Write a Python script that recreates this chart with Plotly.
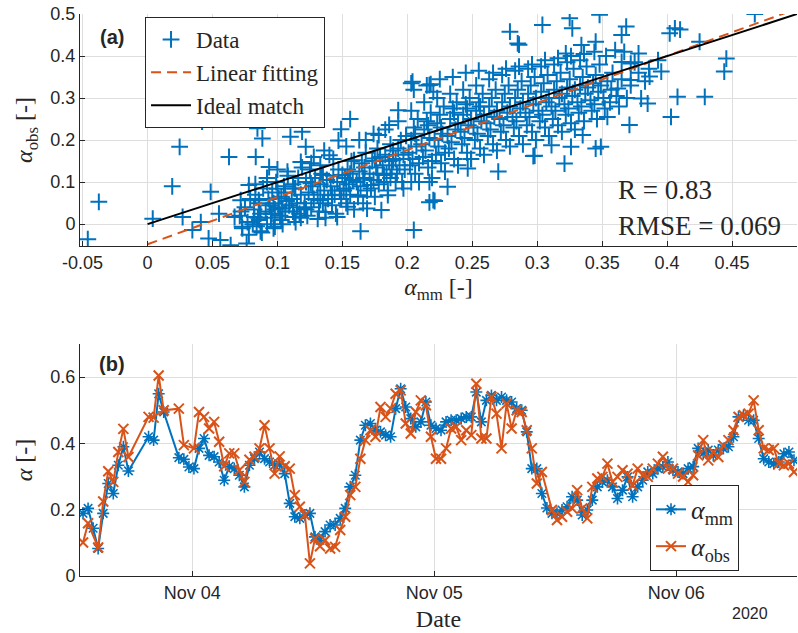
import plotly.graph_objects as go
import pandas as pd

# ---------------- panel (a) data: scatter of alpha_mm vs alpha_obs ----------------
mm_x = [
    -0.046, -0.0375, 0.004, 0.019, 0.0247, 0.027, 0.0345, 0.041, 0.042, 0.047, 0.0486, 0.055, 0.056,
    0.0627, 0.064, 0.067, 0.0717, 0.0728, 0.0763, 0.078, 0.0822, 0.0833, 0.0846, 0.0856, 0.087, 0.0884,
    0.092, 0.0936, 0.0956, 0.098, 0.1, 0.101, 0.104, 0.1077, 0.110, 0.113, 0.1138, 0.118, 0.119, 0.1207,
    0.1218, 0.1257, 0.128, 0.131, 0.133, 0.135, 0.137, 0.14, 0.142, 0.146, 0.147, 0.149, 0.15, 0.153,
    0.154, 0.156, 0.159, 0.162, 0.164, 0.166, 0.168, 0.169, 0.172, 0.175, 0.178, 0.18, 0.182, 0.185,
    0.186, 0.189, 0.191, 0.193,
    0.4675, 0.348, 0.325, 0.304, 0.279, 0.327, 0.3685, 0.365, 0.406, 0.402, 0.41, 0.285, 0.345, 0.334,
    0.36, 0.322, 0.378, 0.425, 0.4456, 0.444, 0.393, 0.365, 0.372, 0.3955, 0.3865, 0.372, 0.362, 0.408,
    0.429, 0.38, 0.385, 0.403, 0.371, 0.354, 0.349, 0.345, 0.335, 0.326, 0.321, 0.311, 0.297, 0.27,
    0.2465, 0.231, 0.22, 0.217, 0.217, 0.205, 0.204, 0.217, 0.203, 0.286, 0.203, 0.218, 0.221, 0.298,
    0.071, 0.073, 0.075, 0.077, 0.079, 0.072, 0.078,
    0.081, 0.082, 0.083, 0.084, 0.085, 0.086, 0.087, 0.088, 0.089, 0.083, 0.086,
    0.091, 0.092, 0.093, 0.094, 0.095, 0.096, 0.097, 0.098, 0.099, 0.092, 0.095, 0.097,
    0.101, 0.102, 0.103, 0.104, 0.105, 0.106, 0.107, 0.108, 0.109, 0.103, 0.106, 0.100,
    0.111, 0.112, 0.113, 0.114, 0.115, 0.116, 0.117, 0.118, 0.119, 0.112, 0.115, 0.118,
    0.121, 0.122, 0.123, 0.124, 0.125, 0.126, 0.127, 0.128, 0.129, 0.122, 0.126,
    0.131, 0.132, 0.133, 0.134, 0.135, 0.136, 0.137, 0.138, 0.139, 0.133, 0.136,
    0.141, 0.142, 0.143, 0.144, 0.145, 0.146, 0.147, 0.148, 0.149, 0.143,
    0.151, 0.152, 0.153, 0.154, 0.155, 0.156, 0.157, 0.158, 0.159, 0.153, 0.156,
    0.161, 0.162, 0.163, 0.164, 0.165, 0.166, 0.167, 0.168, 0.169, 0.163, 0.167,
    0.171, 0.172, 0.173, 0.174, 0.175, 0.176, 0.177, 0.178, 0.179, 0.174, 0.177,
    0.181, 0.182, 0.183, 0.184, 0.185, 0.186, 0.187, 0.188, 0.189, 0.183, 0.187,
    0.191, 0.192, 0.193, 0.194, 0.195, 0.196, 0.197, 0.198, 0.199, 0.193, 0.197,
    0.201, 0.202, 0.203, 0.204, 0.205, 0.206, 0.207, 0.208, 0.209, 0.203, 0.206, 0.209,
    0.211, 0.212, 0.213, 0.214, 0.215, 0.216, 0.217, 0.218, 0.219, 0.213, 0.216, 0.219,
    0.221, 0.222, 0.223, 0.224, 0.225, 0.226, 0.227, 0.228, 0.229, 0.223, 0.226, 0.229,
    0.231, 0.232, 0.233, 0.234, 0.235, 0.236, 0.237, 0.238, 0.239, 0.233, 0.236, 0.239,
    0.241, 0.242, 0.243, 0.244, 0.245, 0.246, 0.247, 0.248, 0.249, 0.243, 0.246, 0.249,
    0.251, 0.252, 0.253, 0.254, 0.255, 0.256, 0.257, 0.258, 0.259, 0.253, 0.256, 0.259,
    0.261, 0.262, 0.263, 0.264, 0.265, 0.266, 0.267, 0.268, 0.269, 0.263, 0.266, 0.269,
    0.271, 0.272, 0.273, 0.274, 0.275, 0.276, 0.277, 0.278, 0.279, 0.273, 0.276, 0.279,
    0.281, 0.282, 0.283, 0.284, 0.285, 0.286, 0.287, 0.288, 0.289, 0.283, 0.286, 0.289,
    0.291, 0.292, 0.293, 0.294, 0.295, 0.296, 0.297, 0.298, 0.299, 0.293, 0.296, 0.299,
    0.301, 0.302, 0.303, 0.304, 0.305, 0.306, 0.307, 0.308, 0.309, 0.303, 0.306, 0.309,
    0.311, 0.312, 0.313, 0.314, 0.315, 0.316, 0.317, 0.318, 0.319, 0.313, 0.316, 0.319,
    0.321, 0.322, 0.323, 0.324, 0.325, 0.326, 0.327, 0.328, 0.329, 0.323, 0.326, 0.329,
    0.331, 0.332, 0.333, 0.334, 0.335, 0.336, 0.337, 0.338, 0.339, 0.333, 0.336,
    0.341, 0.342, 0.343, 0.344, 0.345, 0.346, 0.347, 0.348, 0.349, 0.344,
    0.351, 0.352, 0.354, 0.356, 0.358, 0.353, 0.357,
    0.361, 0.363, 0.365, 0.367, 0.369,
    0.372, 0.375, 0.378, 0.383, 0.386,
    0.215, 0.225, 0.235, 0.245, 0.205, 0.255, 0.22,
]
obs_y = [
    -0.036, 0.053, 0.013, 0.09, 0.184, 0.017, -0.014, 0.005, 0.244, -0.034, 0.077, 0.025, -0.038,
    0.16, -0.05, 0.017, 0.057, -0.006, -0.046, 0.093, 0.017, 0.16, 0.228, 0.057, -0.017, 0.204,
    0.1, 0.136, 0.025, -0.006, 0.0845, 0.061, 0.037, 0.125, 0.208, 0.017, 0.085, 0.148, 0.22, 0.037,
    0.184, 0.097, 0.16, 0.0125, 0.057, 0.117, 0.029, 0.164, 0.069, 0.017, 0.199, 0.226, 0.117, 0.085,
    0.0415, 0.25, 0.152, 0.069, -0.017, 0.109, 0.2, 0.037, 0.093, 0.156, 0.212, 0.0335, 0.117, 0.069,
    0.236, 0.152, 0.1, 0.271,
    0.5, 0.498, 0.49, 0.474, 0.458, 0.466, 0.47, 0.45, 0.466, 0.454, 0.463, 0.43, 0.434, 0.426,
    0.414, 0.406, 0.406, 0.434, 0.394, 0.363, 0.39, 0.386, 0.382, 0.363, 0.351, 0.343, 0.323, 0.303,
    0.303, 0.299, 0.287, 0.255, 0.236, 0.255, 0.184, 0.18, 0.212, 0.184, 0.144, 0.188, 0.162, 0.125,
    0.1326, 0.089, 0.057, 0.052, 0.1, -0.014, 0.339, 0.331, 0.1, 0.427, 0.335, 0.333, 0.055, 0.163,
    0.02, -0.01, 0.04, 0.005, 0.06, 0.03, -0.025,
    0.0, 0.035, 0.07, -0.005, 0.015, 0.05, 0.025, -0.02, 0.085, 0.095, 0.01,
    0.03, 0.0, 0.06, 0.045, 0.015, 0.075, -0.01, 0.035, 0.1, 0.11, 0.025, 0.05,
    0.04, 0.02, 0.065, 0.0, 0.09, 0.03, 0.055, 0.115, 0.045, 0.01, 0.075, 0.13,
    0.06, 0.03, 0.085, 0.005, 0.05, 0.11, 0.025, 0.07, 0.135, 0.095, 0.04, 0.015,
    0.05, 0.1, 0.02, 0.075, 0.13, 0.04, 0.09, 0.06, 0.11, 0.035, 0.145,
    0.07, 0.03, 0.095, 0.12, 0.05, 0.08, 0.015, 0.105, 0.06, 0.14, 0.175,
    0.09, 0.045, 0.115, 0.07, 0.025, 0.1, 0.13, 0.08, 0.06, 0.155,
    0.08, 0.11, 0.05, 0.13, 0.095, 0.07, 0.15, 0.105, 0.035, 0.185, 0.12,
    0.1, 0.065, 0.125, 0.09, 0.145, 0.05, 0.11, 0.17, 0.08, 0.2, 0.135,
    0.12, 0.085, 0.15, 0.105, 0.065, 0.135, 0.18, 0.095, 0.16, 0.215, 0.12,
    0.14, 0.1, 0.165, 0.12, 0.08, 0.15, 0.19, 0.13, 0.175, 0.225, 0.11,
    0.155, 0.12, 0.18, 0.14, 0.2, 0.1, 0.165, 0.13, 0.21, 0.245, 0.085,
    0.17, 0.14, 0.2, 0.155, 0.23, 0.12, 0.185, 0.25, 0.145, 0.27, 0.215, 0.1,
    0.19, 0.16, 0.225, 0.175, 0.245, 0.135, 0.205, 0.265, 0.15, 0.29, 0.235, 0.11,
    0.2, 0.165, 0.24, 0.185, 0.26, 0.145, 0.215, 0.28, 0.17, 0.3, 0.23, 0.125,
    0.21, 0.18, 0.25, 0.195, 0.275, 0.155, 0.225, 0.29, 0.24, 0.31, 0.265, 0.14,
    0.22, 0.19, 0.26, 0.205, 0.285, 0.17, 0.235, 0.3, 0.25, 0.32, 0.275, 0.155,
    0.23, 0.2, 0.27, 0.215, 0.29, 0.18, 0.245, 0.31, 0.26, 0.33, 0.28, 0.165,
    0.24, 0.21, 0.28, 0.225, 0.3, 0.19, 0.255, 0.32, 0.27, 0.345, 0.36, 0.175,
    0.25, 0.22, 0.29, 0.235, 0.31, 0.2, 0.265, 0.33, 0.28, 0.355, 0.37, 0.185,
    0.255, 0.23, 0.3, 0.245, 0.32, 0.21, 0.275, 0.34, 0.29, 0.365, 0.375, 0.19,
    0.265, 0.235, 0.31, 0.255, 0.33, 0.22, 0.285, 0.35, 0.3, 0.37, 0.38, 0.2,
    0.27, 0.245, 0.315, 0.26, 0.335, 0.23, 0.29, 0.355, 0.3, 0.375, 0.39, 0.21,
    0.28, 0.25, 0.32, 0.27, 0.34, 0.235, 0.3, 0.36, 0.31, 0.38, 0.395, 0.22,
    0.285, 0.26, 0.325, 0.275, 0.345, 0.24, 0.305, 0.37, 0.32, 0.385, 0.4, 0.225,
    0.29, 0.265, 0.33, 0.28, 0.35, 0.245, 0.31, 0.375, 0.325, 0.39, 0.405,
    0.295, 0.27, 0.335, 0.285, 0.355, 0.25, 0.315, 0.38, 0.33, 0.41,
    0.3, 0.275, 0.34, 0.29, 0.36, 0.4, 0.32,
    0.305, 0.28, 0.345, 0.41, 0.3,
    0.33, 0.385, 0.36, 0.34, 0.37,
    0.33, 0.345, 0.35, 0.36, 0.32, 0.365, 0.315,
]

# linear fit coefficients and the ideal 1:1 line
fit_slope = 1.121
fit_intercept = -0.048
line_x = [0.0, 0.5]

R_text = "R = 0.83"
RMSE_text = "RMSE = 0.069"

# ---------------- panel (b) data: time series (30-min samples) ----------------
t_start = "2020-11-03 13:10"
n_samples = 142
alpha_mm = [
    0.189, 0.204, 0.144, 0.083, 0.189, 0.279, 0.249, 0.334, 0.39, 0.317,
    None, None, None, 0.42, 0.41, 0.55, 0.495, None, None, 0.357,
    0.352, 0.329, 0.324, 0.385, 0.415, 0.364, 0.36, 0.344, 0.289, 0.331,
    0.324, 0.304, 0.269, 0.334, 0.354, 0.374, 0.354, 0.344, 0.334, 0.337,
    0.309, 0.219, 0.179, 0.174, 0.184, 0.189, 0.118, 0.108, 0.134, 0.154,
    0.154, 0.174, 0.204, 0.269, 0.304, 0.41, 0.455, 0.46, 0.44, 0.435,
    0.425, 0.42, 0.505, 0.565, 0.51, 0.475, 0.45, 0.465, 0.525, 0.455,
    0.445, 0.44, 0.465, 0.47, 0.47, 0.475, 0.48, 0.48, 0.555, 0.465,
    0.53, 0.545, 0.53, 0.54, 0.53, 0.525, 0.505, 0.5, 0.435, 0.324,
    0.324, 0.249, 0.205, 0.189, 0.189, 0.199, 0.209, 0.239, 0.229, 0.184,
    0.199, 0.229, 0.269, 0.284, 0.289, 0.269, 0.234, 0.259, 0.299, 0.239,
    0.269, 0.289, 0.314, 0.309, 0.324, 0.329, 0.344, 0.319, 0.314, 0.309,
    0.324, 0.33, 0.385, 0.37, 0.38, 0.364, 0.38, 0.385, 0.39, 0.42,
    0.48, 0.485, 0.47, 0.47, 0.415, 0.354, 0.344, 0.339, 0.344, 0.369,
    0.374, 0.349,
]
alpha_obs = [
    0.101, 0.159, None, 0.086, 0.225, 0.316, 0.284, 0.374, 0.444, 0.359,
    None, None, None, 0.48, 0.478, 0.605, 0.50, None, None, 0.505,
    0.395, None, 0.385, 0.495, 0.48, 0.445, 0.465, 0.405, 0.331, 0.37,
    0.37, 0.319, 0.284, 0.351, 0.36, 0.385, 0.455, 0.385, 0.309, 0.361,
    0.331, 0.324, 0.244, 0.209, 0.184, 0.038, 0.113, 0.09, 0.108, 0.083,
    0.088, 0.139, 0.179, 0.244, 0.269, 0.354, 0.41, 0.44, 0.42, 0.51,
    0.48, 0.505, 0.55, 0.56, 0.46, 0.43, 0.495, 0.53, 0.515, 0.42,
    0.354, 0.354, 0.385, 0.445, 0.45, 0.41, 0.44, 0.425, 0.58, 0.415,
    0.415, 0.54, 0.49, 0.385, 0.52, 0.445, 0.5, 0.495, 0.44, 0.385,
    0.279, 0.314, None, 0.199, 0.169, 0.179, 0.194, 0.204, 0.259, 0.204,
    0.174, 0.269, 0.294, 0.299, 0.339, 0.284, 0.299, 0.319, 0.309, 0.274,
    0.324, 0.304, 0.299, 0.324, 0.339, 0.36, 0.324, 0.324, 0.309, 0.30,
    0.284, 0.304, 0.364, 0.41, 0.349, 0.374, 0.359, 0.394, 0.41, 0.44,
    0.48, 0.485, 0.49, 0.53, 0.44, 0.385, 0.38, 0.385, 0.339, 0.334,
    0.339, 0.314,
]
times = pd.date_range(t_start, periods=n_samples, freq="30min")

x_ticks_a = [-0.05, 0, 0.05, 0.1, 0.15, 0.2, 0.25, 0.3, 0.35, 0.4, 0.45]
x_ticklabels_a = ["-0.05", "0", "0.05", "0.1", "0.15", "0.2", "0.25", "0.3", "0.35", "0.4", "0.45"]
y_ticks_a = [0, 0.1, 0.2, 0.3, 0.4, 0.5]
y_ticklabels_a = ["0", "0.1", "0.2", "0.3", "0.4", "0.5"]
date_ticks = ["2020-11-04", "2020-11-05", "2020-11-06"]
date_ticklabels = ["Nov 04", "Nov 05", "Nov 06"]
y_ticks_b = [0, 0.2, 0.4, 0.6]
y_ticklabels_b = ["0", "0.2", "0.4", "0.6"]

# ---------------- styling ----------------
BLUE = "#0072BD"
ORANGE = "#D95319"
AX = "#262626"
GRID = "#dedede"
SANS = "Liberation Sans"
SERIF = "Liberation Serif"

fig = go.Figure()

fig.add_trace(go.Scatter(
    x=mm_x, y=obs_y, mode="markers", name="Data",
    marker=dict(symbol="cross-thin-open", size=12, color=BLUE, line=dict(width=2, color=BLUE)),
    xaxis="x", yaxis="y", legend="legend",
))
fit_y = [fit_slope * v + fit_intercept for v in line_x]
fig.add_trace(go.Scatter(
    x=line_x, y=fit_y, mode="lines", name="Linear fitting",
    line=dict(color=ORANGE, width=2, dash="10px,6px"),
    xaxis="x", yaxis="y", legend="legend",
))
fig.add_trace(go.Scatter(
    x=line_x, y=line_x, mode="lines", name="Ideal match",
    line=dict(color="black", width=2),
    xaxis="x", yaxis="y", legend="legend",
))

fig.add_trace(go.Scatter(
    x=times, y=alpha_mm, mode="lines+markers", name="<i>α</i><sub>mm</sub>",
    connectgaps=True,
    line=dict(color=BLUE, width=2),
    marker=dict(symbol="asterisk-open", size=10, color=BLUE, line=dict(width=1.6, color=BLUE)),
    xaxis="x2", yaxis="y2", legend="legend2",
))
fig.add_trace(go.Scatter(
    x=times, y=alpha_obs, mode="lines+markers", name="<i>α</i><sub>obs</sub>",
    connectgaps=True,
    line=dict(color=ORANGE, width=2),
    marker=dict(symbol="x-thin-open", size=10, color=ORANGE, line=dict(width=2, color=ORANGE)),
    xaxis="x2", yaxis="y2", legend="legend2",
))

common_axis = dict(
    showgrid=True, gridcolor=GRID, gridwidth=1, zeroline=False,
    showline=True, linecolor=AX, linewidth=1, ticks="inside", ticklen=5, tickcolor=AX,
    tickfont=dict(family=SANS, size=18, color=AX),
)

fig.update_layout(
    width=798, height=633,
    margin=dict(l=80, r=1, t=14, b=57),
    paper_bgcolor="white", plot_bgcolor="white",
    xaxis=dict(
        common_axis, domain=[0, 1], anchor="y", range=[-0.052, 0.5],
        tickvals=x_ticks_a, ticktext=x_ticklabels_a,
        title=dict(text="<i>α</i><sub>mm</sub> [-]", font=dict(family=SERIF, size=24, color=AX), standoff=6),
    ),
    yaxis=dict(
        common_axis, domain=[0.5872, 1], anchor="x", range=[-0.052, 0.5],
        tickvals=y_ticks_a, ticktext=y_ticklabels_a,
        title=dict(text="<i>α</i><sub>obs</sub> [-]", font=dict(family=SERIF, size=24, color=AX), standoff=10),
    ),
    xaxis2=dict(
        common_axis, domain=[0, 1], anchor="y2", type="date",
        range=["2020-11-03 12:52", "2020-11-06 11:58"],
        tickvals=date_ticks, ticktext=date_ticklabels,
        title=dict(text="Date", font=dict(family=SERIF, size=24, color=AX), standoff=8),
    ),
    yaxis2=dict(
        common_axis, domain=[0, 0.4128], anchor="x2", range=[0, 0.7],
        tickvals=y_ticks_b, ticktext=y_ticklabels_b,
        title=dict(text="<i>α</i> [-]", font=dict(family=SERIF, size=24, color=AX), standoff=10),
    ),
    legend=dict(
        x=0.0907, y=0.9947, xanchor="left", yanchor="top",
        bgcolor="white", bordercolor=AX, borderwidth=1,
        font=dict(family=SERIF, size=23, color=AX), tracegroupgap=0, itemwidth=40,
    ),
    legend2=dict(
        x=0.795, y=0.162, xanchor="left", yanchor="top",
        bgcolor="white", bordercolor=AX, borderwidth=1,
        font=dict(family=SERIF, size=26, color=AX), tracegroupgap=0,
    ),
    showlegend=True,
    annotations=[
        dict(text="<b>(a)</b>", x=-0.027, y=0.445, xref="x", yref="y", showarrow=False,
             font=dict(family=SANS, size=20, color=AX)),
        dict(text="<b>(b)</b>", x=0.0446, y=0.64, xref="paper", yref="y2", showarrow=False,
             xanchor="center", font=dict(family=SANS, size=20, color=AX)),
        dict(text=R_text, x=0.361, y=0.081, xref="x", yref="y", showarrow=False,
             xanchor="left", font=dict(family=SERIF, size=27, color=AX)),
        dict(text=RMSE_text, x=0.361, y=-0.005, xref="x", yref="y", showarrow=False,
             xanchor="left", font=dict(family=SERIF, size=27, color=AX)),
        dict(text="2020", x=0.962, y=-0.085, xref="paper", yref="paper", showarrow=False,
             font=dict(family=SANS, size=16, color=AX)),
    ],
)

fig.write_html("out.html")
